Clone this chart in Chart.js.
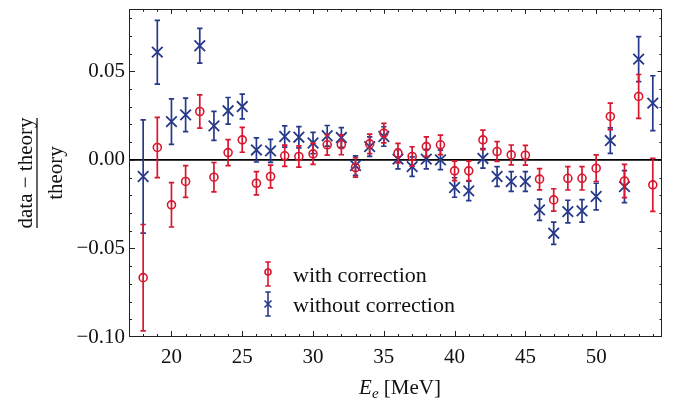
<!DOCTYPE html>
<html><head><meta charset="utf-8">
<script src="https://cdn.jsdelivr.net/npm/chart.js@4/dist/chart.umd.min.js"></script>
<style>html,body{margin:0;padding:0;background:#fff}#wrap{width:678px;height:402px;position:relative}</style>
</head><body><div id="wrap"><canvas id="c"></canvas></div>
<script>
const energies = [18,19,20,21,22,23,24,25,26,27,28,29,30,31,32,33,34,35,36,37,38,39,40,41,42,43,44,45,46,47,48,49,50,51,52,53,54];
const withCorrection = [-0.0665,0.0070,-0.0254,-0.0122,0.0273,-0.0098,0.0041,0.0113,-0.0132,-0.0094,0.0023,0.0019,0.0034,0.0085,0.0085,-0.0043,0.0090,0.0151,0.0038,0.0019,0.0075,0.0085,-0.0062,-0.0062,0.0113,0.0047,0.0028,0.0026,-0.0109,-0.0226,-0.0104,-0.0104,-0.0047,0.0245,-0.0119,0.0358,-0.0141];
const withCorrectionErr = [0.030,0.017,0.0125,0.009,0.0094,0.0083,0.0073,0.007,0.0066,0.0064,0.006,0.006,0.006,0.0058,0.0056,0.0055,0.0055,0.0055,0.0055,0.0055,0.0055,0.0055,0.0055,0.0055,0.0055,0.0056,0.0056,0.0056,0.006,0.0063,0.0066,0.0066,0.0075,0.0075,0.0094,0.0124,0.015];
const withoutCorrection = [-0.0094,0.0608,0.0216,0.0254,0.0644,0.0192,0.0277,0.0301,0.0056,0.0051,0.0132,0.0128,0.0095,0.0136,0.0126,-0.0032,0.0075,0.0132,0.0004,-0.0038,0.0004,0.0000,-0.0156,-0.0175,0.0008,-0.0094,-0.0122,-0.0122,-0.0282,-0.0414,-0.0292,-0.0288,-0.0207,0.0109,-0.0151,0.0569,0.0320];
const withoutCorrectionErr = [0.032,0.018,0.0128,0.0095,0.0098,0.0082,0.0075,0.007,0.0068,0.0065,0.006,0.006,0.006,0.0058,0.0056,0.0055,0.0055,0.0055,0.0055,0.0055,0.0055,0.0055,0.0055,0.0055,0.0055,0.0056,0.0056,0.0056,0.006,0.0063,0.0064,0.0064,0.0075,0.0072,0.009,0.0127,0.0155];
const xTickValues = [20,25,30,35,40,45,50];
const yTickValues = [-0.10,-0.05,0.00,0.05];
const seriesLabels = ['with correction','without correction'];

const RED = '#d8172f';
const BLUE = '#27398a';
const SERIF = '"Liberation Serif", "Times New Roman", serif';

function toPoints(vals, errs){ return energies.map((e,i)=>({x:e,y:vals[i],err:errs[i]})); }

const errorBars = {
  id:'errorBars',
  beforeDatasetDraw(chart,args){
    const ds = chart.data.datasets[args.index];
    const ys = chart.scales.y, ca = chart.chartArea, ctx = chart.ctx;
    ctx.save();
    ctx.beginPath(); ctx.rect(ca.left,ca.top,ca.right-ca.left,ca.bottom-ca.top); ctx.clip();
    ctx.strokeStyle = ds.borderColor; ctx.lineWidth = 1.7;
    args.meta.data.forEach((el,i)=>{
      const p = ds.data[i];
      const x = el.x;
      const t = ys.getPixelForValue(p.y+p.err), b = ys.getPixelForValue(p.y-p.err);
      ctx.beginPath();
      ctx.moveTo(x,t); ctx.lineTo(x,b);
      ctx.moveTo(x-2.7,t); ctx.lineTo(x+2.7,t);
      ctx.moveTo(x-2.7,b); ctx.lineTo(x+2.7,b);
      ctx.stroke();
    });
    ctx.restore();
  }
};

const frameTicks = {
  id:'frameTicks',
  beforeDatasetsDraw(chart){
    const ctx = chart.ctx, ca = chart.chartArea, ys = chart.scales.y;
    const y0 = ys.getPixelForValue(0);
    ctx.save(); ctx.strokeStyle='#000'; ctx.lineWidth=1.8;
    ctx.beginPath(); ctx.moveTo(ca.left,y0); ctx.lineTo(ca.right,y0); ctx.stroke();
    ctx.restore();
  },
  afterDatasetsDraw(chart){
    const ctx = chart.ctx, ca = chart.chartArea, xs = chart.scales.x, ys = chart.scales.y;
    ctx.save();
    ctx.strokeStyle = '#222'; ctx.lineWidth = 1;
    ctx.strokeRect(Math.round(ca.left)+0.5, Math.round(ca.top)+0.5, Math.round(ca.right-ca.left)-1, Math.round(ca.bottom-ca.top)-1);
    ctx.beginPath();
    for(let e=17; e<=54; e++){
      const x = Math.round(xs.getPixelForValue(e))+0.5;
      if (x<=ca.left+1 || x>=ca.right-1) continue;
      const major = e%5===0;
      const L = major?6:3;
      ctx.moveTo(x,ca.bottom); ctx.lineTo(x,ca.bottom-L);
      ctx.moveTo(x,ca.top); ctx.lineTo(x,ca.top+(major?4.5:2.5));
    }
    for(let k=-10; k<=8; k++){
      const v = k/100;
      const y = Math.round(ys.getPixelForValue(v))+0.5;
      if (y>=ca.bottom-1 || y<=ca.top+1) continue;
      const major = k%5===0;
      ctx.moveTo(ca.left,y); ctx.lineTo(ca.left+(major?6:3),y);
      ctx.moveTo(ca.right,y); ctx.lineTo(ca.right-(major?4.5:2.5),y);
    }
    ctx.stroke();
    ctx.restore();
  },
  afterDraw(chart){
    const ctx = chart.ctx;
    ctx.save();
    ctx.fillStyle = '#111';
    ctx.translate(37,173); ctx.rotate(-Math.PI/2);
    ctx.font = '21px '+SERIF; ctx.textAlign='center'; ctx.textBaseline='alphabetic';
    ctx.fillText('data \u2212 theory', 0, -5);
    ctx.fillText('theory', 0, 25);
    ctx.strokeStyle='#111'; ctx.lineWidth=1.3;
    ctx.beginPath(); ctx.moveTo(-55,0); ctx.lineTo(55,0); ctx.stroke();
    ctx.restore();
    ctx.save(); ctx.fillStyle='#111'; ctx.textBaseline='alphabetic'; ctx.textAlign='left';
    ctx.font = 'italic 21px '+SERIF; const wE = ctx.measureText('E').width;
    ctx.font = 'italic 15px '+SERIF; const we = ctx.measureText('e').width;
    ctx.font = '21px '+SERIF; const wR = ctx.measureText(' [MeV]').width;
    let x = 400 - (wE+we+wR)/2, yb = 394;
    ctx.font = 'italic 21px '+SERIF; ctx.fillText('E', x, yb); x += wE;
    ctx.font = 'italic 15px '+SERIF; ctx.fillText('e', x, yb+4); x += we;
    ctx.font = '21px '+SERIF; ctx.fillText(' [MeV]', x, yb);
    ctx.restore();
    ctx.save();
    const items = [{c:RED, style:'circle', y:274, label:seriesLabels[0]},{c:BLUE, style:'cross', y:304, label:seriesLabels[1]}];
    items.forEach(it=>{
      const mx = 268;
      ctx.strokeStyle = it.c; ctx.lineWidth = 1.6;
      ctx.beginPath();
      ctx.moveTo(mx,it.y-12); ctx.lineTo(mx,it.y+12);
      ctx.moveTo(mx-2.7,it.y-12); ctx.lineTo(mx+2.7,it.y-12);
      ctx.moveTo(mx-2.7,it.y+12); ctx.lineTo(mx+2.7,it.y+12);
      ctx.stroke();
      ctx.beginPath();
      if(it.style==='circle'){ ctx.arc(mx,it.y-2,3,0,Math.PI*2); }
      else { ctx.moveTo(mx-3.5,it.y-3.5); ctx.lineTo(mx+3.5,it.y+3.5); ctx.moveTo(mx-3.5,it.y+3.5); ctx.lineTo(mx+3.5,it.y-3.5); }
      ctx.stroke();
      ctx.fillStyle='#111'; ctx.font='22px '+SERIF; ctx.textAlign='left'; ctx.textBaseline='alphabetic';
      ctx.fillText(it.label, 293, it.y+8);
    });
    ctx.restore();
  }
};

new Chart(document.getElementById('c'), {
  type:'scatter',
  data:{ datasets:[
    { label:seriesLabels[0], data:toPoints(withCorrection,withCorrectionErr), pointStyle:'circle', pointRadius:4, borderColor:RED, backgroundColor:'rgba(0,0,0,0)', borderWidth:1.6, showLine:false },
    { label:seriesLabels[1], data:toPoints(withoutCorrection,withoutCorrectionErr), pointStyle:'crossRot', pointRadius:7.5, borderColor:BLUE, backgroundColor:BLUE, borderWidth:1.8, showLine:false }
  ]},
  options:{
    responsive:true, maintainAspectRatio:false, animation:false, devicePixelRatio:1, events:[],
    layout:{ padding:{ top:9, right:16, left:0, bottom:0 } },
    plugins:{ legend:{display:false}, tooltip:{enabled:false} },
    scales:{
      x:{ type:'linear', min:17, max:54.65,
        afterBuildTicks:s=>{ s.ticks = xTickValues.map(v=>({value:v})); },
        afterFit:s=>{ s.height = 65; s.paddingLeft = 0; s.paddingRight = 0; },
        grid:{display:false, drawTicks:false}, border:{display:false},
        ticks:{ font:{family:SERIF,size:21}, color:'#111', padding:8, maxRotation:0, autoSkip:false, callback:v=>String(v) } },
      y:{ type:'linear', min:-0.1, max:0.085,
        afterBuildTicks:s=>{ s.ticks = yTickValues.map(v=>({value:v})); },
        afterFit:s=>{ s.width = 129; s.paddingTop = 0; s.paddingBottom = 0; },
        grid:{display:false, drawTicks:false}, border:{display:false},
        ticks:{ font:{family:SERIF,size:21}, color:'#111', padding:4, autoSkip:false,
          callback:v=>Number(v).toFixed(2).replace('-','\u2212') } }
    }
  },
  plugins:[errorBars, frameTicks]
});
</script></body></html>
